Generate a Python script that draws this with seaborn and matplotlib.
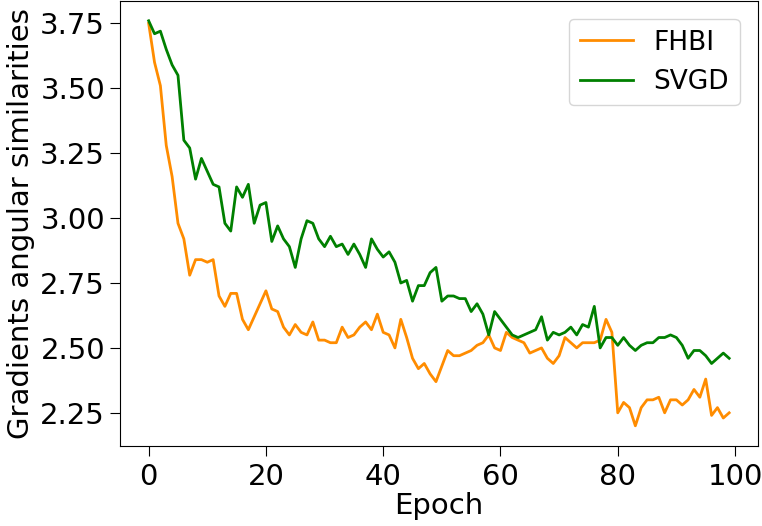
import numpy as np
import pandas as pd
import matplotlib
matplotlib.use("Agg")
import matplotlib.pyplot as plt
import seaborn as sns

# =========================
# data
# =========================
epochs = list(range(100))

fhbi = [
    3.75, 3.60, 3.51, 3.28, 3.16, 2.98, 2.92, 2.78, 2.84, 2.84,
    2.83, 2.84, 2.70, 2.66, 2.71, 2.71, 2.61, 2.57, 2.62, 2.67,
    2.72, 2.65, 2.64, 2.58, 2.55, 2.59, 2.56, 2.55, 2.60, 2.53,
    2.53, 2.52, 2.52, 2.58, 2.54, 2.55, 2.58, 2.60, 2.57, 2.63,
    2.56, 2.55, 2.50, 2.61, 2.54, 2.46, 2.42, 2.44, 2.40, 2.37,
    2.43, 2.49, 2.47, 2.47, 2.48, 2.49, 2.51, 2.52, 2.55, 2.50,
    2.49, 2.56, 2.54, 2.53, 2.52, 2.48, 2.49, 2.50, 2.46, 2.44,
    2.47, 2.54, 2.52, 2.50, 2.52, 2.52, 2.52, 2.53, 2.61, 2.56,
    2.25, 2.29, 2.27, 2.20, 2.27, 2.30, 2.30, 2.31, 2.25, 2.30,
    2.30, 2.28, 2.30, 2.34, 2.31, 2.38, 2.24, 2.27, 2.23, 2.25,
]

svgd = [
    3.76, 3.71, 3.72, 3.65, 3.59, 3.55, 3.30, 3.27, 3.15, 3.23,
    3.18, 3.13, 3.12, 2.98, 2.95, 3.12, 3.08, 3.13, 2.98, 3.05,
    3.06, 2.91, 2.97, 2.92, 2.89, 2.81, 2.92, 2.99, 2.98, 2.92,
    2.89, 2.93, 2.89, 2.90, 2.86, 2.90, 2.86, 2.81, 2.92, 2.88,
    2.85, 2.87, 2.83, 2.75, 2.76, 2.68, 2.74, 2.74, 2.79, 2.81,
    2.68, 2.70, 2.70, 2.69, 2.69, 2.64, 2.67, 2.63, 2.55, 2.64,
    2.61, 2.58, 2.55, 2.54, 2.55, 2.56, 2.57, 2.62, 2.53, 2.56,
    2.55, 2.56, 2.58, 2.55, 2.59, 2.58, 2.66, 2.50, 2.54, 2.54,
    2.51, 2.54, 2.51, 2.49, 2.51, 2.52, 2.52, 2.54, 2.54, 2.55,
    2.54, 2.51, 2.46, 2.49, 2.49, 2.47, 2.44, 2.46, 2.48, 2.46,
]

# =========================
# plot
# =========================
fs = 21
fig, ax = plt.subplots(figsize=(7.62, 5.26), dpi=100)

sns.lineplot(x=epochs, y=fhbi, color="darkorange", linewidth=2, label="FHBI", ax=ax)
sns.lineplot(x=epochs, y=svgd, color="green", linewidth=2, label="SVGD", ax=ax)

ax.set_xlabel("Epoch", fontsize=fs, labelpad=1)
ax.set_ylabel("Gradients angular similarities", fontsize=fs)
ax.set_xticks([0, 20, 40, 60, 80, 100])
ax.set_yticks([2.25, 2.50, 2.75, 3.00, 3.25, 3.50, 3.75])
ax.tick_params(axis="both", labelsize=fs, length=7)
ax.tick_params(axis="x", pad=5)
ax.legend(loc="upper right", fontsize=19, borderaxespad=0.7)

fig.subplots_adjust(left=0.157, right=0.995, top=0.999, bottom=0.152)
fig.savefig("out.png", dpi=100)
